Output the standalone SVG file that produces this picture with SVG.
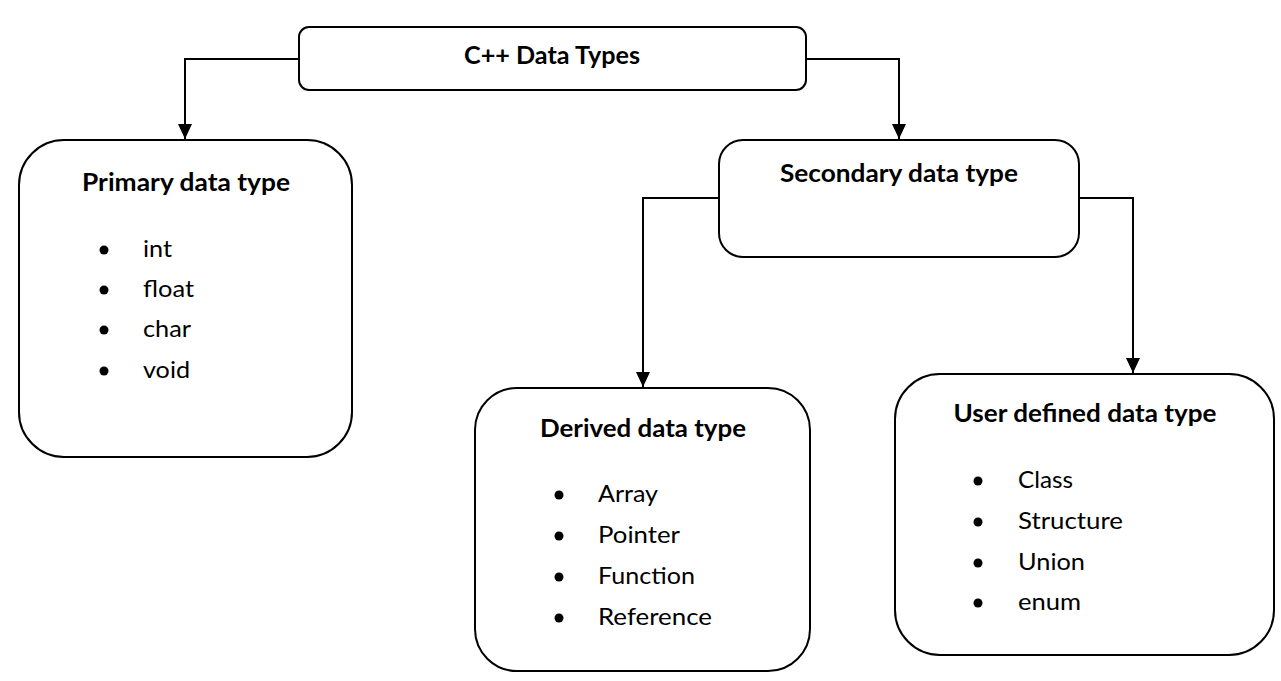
<svg xmlns="http://www.w3.org/2000/svg" width="1281" height="681" viewBox="0 0 1281 681">
<style>
.box{fill:#ffffff;stroke:#000;stroke-width:2}
.ttl{font-family:Lato,"Liberation Sans",sans-serif;font-weight:bold;font-size:24px;fill:#000}
.itm{font-family:Lato,"Liberation Sans",sans-serif;font-size:24px;fill:#000}
.con{fill:none;stroke:#000;stroke-width:2}
.bul{fill:#000}
</style>
<defs>
<marker id="arr" markerUnits="userSpaceOnUse" markerWidth="16" markerHeight="16" refX="15" refY="7" orient="auto">
<path d="M0,0 L15,7 L0,14 Z" fill="#000"/>
</marker>
</defs>
<rect x="0" y="0" width="1281" height="681" fill="#ffffff"/>
<g id="connectors">
<path class="con" d="M299,59 H185 V139" marker-end="url(#arr)"/>
<path class="con" d="M806,59 H899 V139" marker-end="url(#arr)"/>
<path class="con" d="M719,198 H643 V387" marker-end="url(#arr)"/>
<path class="con" d="M1079,198 H1133 V373" marker-end="url(#arr)"/>
</g>
<g id="root">
<rect class="box" x="299" y="27" width="507" height="63" rx="10"/>
<text class="ttl" x="552" y="64" text-anchor="middle" textLength="176" lengthAdjust="spacingAndGlyphs">C++ Data Types</text>
</g>
<g id="primary">
<rect class="box" x="19" y="140" width="333" height="317" rx="45"/>
<text class="ttl" x="186" y="191" text-anchor="middle" textLength="208" lengthAdjust="spacingAndGlyphs">Primary data type</text>
<circle class="bul" cx="104" cy="250" r="4.5"/>
<text class="itm" x="143" y="257" textLength="29" lengthAdjust="spacingAndGlyphs">int</text>
<circle class="bul" cx="104" cy="290" r="4.5"/>
<text class="itm" x="143" y="297" textLength="51" lengthAdjust="spacingAndGlyphs">float</text>
<circle class="bul" cx="104" cy="330" r="4.5"/>
<text class="itm" x="143" y="337" textLength="48" lengthAdjust="spacingAndGlyphs">char</text>
<circle class="bul" cx="104" cy="371" r="4.5"/>
<text class="itm" x="143" y="378" textLength="47" lengthAdjust="spacingAndGlyphs">void</text>
</g>
<g id="secondary">
<rect class="box" x="719" y="140" width="360" height="117" rx="24"/>
<text class="ttl" x="899" y="182" text-anchor="middle" textLength="238" lengthAdjust="spacingAndGlyphs">Secondary data type</text>
</g>
<g id="derived">
<rect class="box" x="475" y="388" width="335" height="283" rx="42"/>
<text class="ttl" x="643" y="437" text-anchor="middle" textLength="206" lengthAdjust="spacingAndGlyphs">Derived data type</text>
<circle class="bul" cx="559" cy="495" r="4.5"/>
<text class="itm" x="598" y="502" textLength="60" lengthAdjust="spacingAndGlyphs">Array</text>
<circle class="bul" cx="559" cy="536" r="4.5"/>
<text class="itm" x="598" y="543" textLength="82" lengthAdjust="spacingAndGlyphs">Pointer</text>
<circle class="bul" cx="559" cy="577" r="4.5"/>
<text class="itm" x="598" y="584" textLength="97" lengthAdjust="spacingAndGlyphs">Function</text>
<circle class="bul" cx="559" cy="618" r="4.5"/>
<text class="itm" x="598" y="625" textLength="114" lengthAdjust="spacingAndGlyphs">Reference</text>
</g>
<g id="userdefined">
<rect class="box" x="895" y="374" width="379" height="281" rx="45"/>
<text class="ttl" x="1085" y="422" text-anchor="middle" textLength="263" lengthAdjust="spacingAndGlyphs">User defined data type</text>
<circle class="bul" cx="978" cy="481" r="4.5"/>
<text class="itm" x="1018" y="488" textLength="55" lengthAdjust="spacingAndGlyphs">Class</text>
<circle class="bul" cx="978" cy="522" r="4.5"/>
<text class="itm" x="1018" y="529" textLength="105" lengthAdjust="spacingAndGlyphs">Structure</text>
<circle class="bul" cx="978" cy="563" r="4.5"/>
<text class="itm" x="1018" y="570" textLength="67" lengthAdjust="spacingAndGlyphs">Union</text>
<circle class="bul" cx="978" cy="603" r="4.5"/>
<text class="itm" x="1018" y="610" textLength="63" lengthAdjust="spacingAndGlyphs">enum</text>
</g>
</svg>
